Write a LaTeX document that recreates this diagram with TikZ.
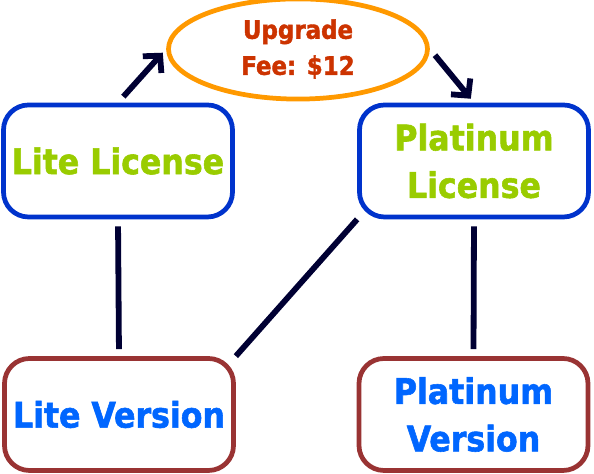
\documentclass[tikz,border=0pt]{standalone}
\usepackage{fontspec}
\setmainfont{DejaVu Sans Condensed}[BoldFeatures={FakeBold=1.6}]
\usepackage{xcolor}
\usetikzlibrary{arrows.meta,shapes.geometric}
\definecolor{licblue}{HTML}{0033CC}
\definecolor{verbrown}{HTML}{993333}
\definecolor{licgreen}{HTML}{99CC00}
\definecolor{verblue}{HTML}{0066FF}
\definecolor{feeorange}{HTML}{FF9900}
\definecolor{feetext}{HTML}{CC3300}
\definecolor{linknavy}{HTML}{000033}

\begin{document}
\begin{tikzpicture}[
  license/.style={draw=licblue,line width=2.7pt,rounded corners=0.5cm,
    minimum width=4.58cm,minimum height=2.24cm,align=center,
    text=licgreen,font=\fontsize{20}{27}\selectfont\bfseries},
  version/.style={license,draw=verbrown,text=verblue},
  link/.style={draw=linknavy,line width=3.3pt,shorten <=0.14cm,shorten >=0.14cm},
  upto/.style={draw=linknavy,line width=3.3pt,shorten <=0.16cm,shorten >=0.1cm,
    -{Straight Barb[length=0.24cm,width=0.5cm]}}]
 \useasboundingbox (0,0) rectangle (11.88,9.48);
 % boxes
 \node[license] (lite) at (2.36,6.26) {Lite License};
 \node[license] (plat) at (9.48,6.26) {Platinum\\License};
 \node[version] (litever) at (2.38,1.19) {Lite Version};
 \node[version] (platver) at (9.47,1.19) {Platinum\\Version};
 % upgrade fee
 \node[ellipse,draw=feeorange,line width=2.7pt,minimum width=5.18cm,minimum height=1.82cm,
   align=center,text=feetext,font=\fontsize{14.5}{20.5}\selectfont\bfseries] (fee) at (5.96,8.5) {Upgrade\\Fee: \$12};
 % connectors
 \draw[upto] (lite.north) -- (fee.west);
 \draw[upto] (fee.east) -- (plat.north);
 \draw[link] (lite.south) -- (litever.north);
 \draw[link] (plat.south) -- (platver.north);
 \draw[link,shorten <=0pt,shorten >=0pt] (plat.south west) -- (litever.north east);
\end{tikzpicture}
\end{document}
